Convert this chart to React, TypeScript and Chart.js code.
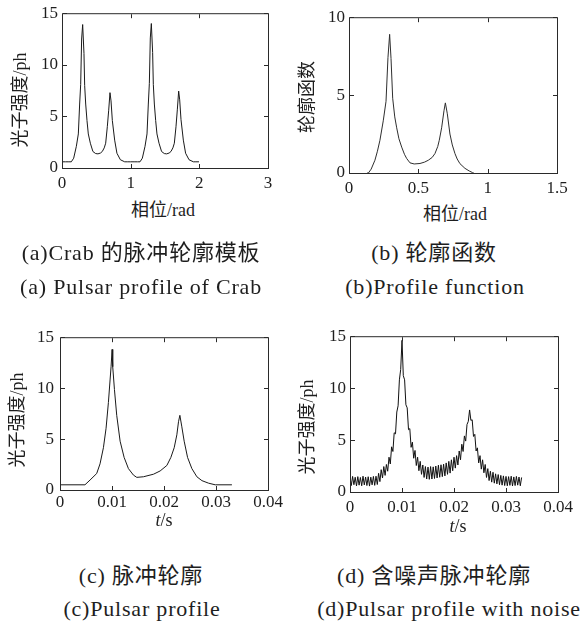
import React, { useEffect, useRef } from "react";
import { Chart, registerables } from "chart.js";

Chart.register(...registerables);

// ---------- (a) Crab pulse profile template ----------
const phaseA = [0, 0.05, 0.1, 0.136, 0.17, 0.209, 0.238, 0.257, 0.272, 0.286, 0.301, 0.32, 0.33, 0.345, 0.364, 0.383, 0.413, 0.45, 0.49, 0.524, 0.56, 0.587, 0.615, 0.636, 0.66, 0.68, 0.699, 0.714, 0.733, 0.767, 0.8, 0.85, 0.913, 0.95, 1.0, 1.05, 1.1, 1.136, 1.17, 1.209, 1.238, 1.257, 1.272, 1.286, 1.301, 1.32, 1.33, 1.345, 1.364, 1.383, 1.413, 1.45, 1.49, 1.524, 1.56, 1.587, 1.615, 1.636, 1.66, 1.68, 1.699, 1.714, 1.733, 1.767, 1.8, 1.85, 1.913, 1.95, 1.995];
const intensityA = [0.6, 0.6, 0.6, 0.6, 0.95, 2.1, 3.3, 6.2, 8.1, 12.5, 13.9, 11.1, 8.0, 6.2, 4.6, 3.3, 2.4, 1.6, 1.4, 1.37, 1.45, 1.6, 1.95, 2.4, 4.0, 5.6, 7.3, 6.5, 4.6, 2.7, 1.43, 0.8, 0.6, 0.6, 0.6, 0.6, 0.6, 0.6, 0.95, 2.1, 3.3, 6.2, 8.2, 12.6, 14.0, 11.2, 8.1, 6.2, 4.6, 3.3, 2.4, 1.6, 1.4, 1.37, 1.45, 1.6, 1.95, 2.4, 4.0, 5.7, 7.45, 6.6, 4.7, 2.7, 1.43, 0.8, 0.6, 0.6, 0.6];
const xTicksA = [0, 1, 2, 3];
const yTicksA = [0, 5, 10, 15];

// ---------- (b) Profile function ----------
const phaseB = [0.13, 0.14, 0.16, 0.187, 0.205, 0.223, 0.247, 0.267, 0.281, 0.293, 0.303, 0.315, 0.33, 0.344, 0.36, 0.38, 0.4, 0.416, 0.44, 0.47, 0.512, 0.545, 0.572, 0.6, 0.62, 0.64, 0.651, 0.668, 0.685, 0.695, 0.709, 0.728, 0.745, 0.764, 0.78, 0.8, 0.836, 0.867, 0.89, 0.9];
const profileB = [0, 0, 0.25, 0.82, 1.4, 2.1, 3.35, 4.6, 7.4, 8.9, 7.35, 4.8, 3.6, 2.9, 2.2, 1.66, 1.2, 0.93, 0.65, 0.58, 0.61, 0.7, 0.82, 1.0, 1.25, 1.7, 2.1, 2.9, 4.0, 4.5, 3.8, 2.5, 1.8, 1.25, 0.9, 0.6, 0.3, 0.13, 0.03, 0];
const xTicksB = [0, 0.5, 1, 1.5];
const yTicksB = [0, 5, 10];

// ---------- (c) Pulse profile ----------
const timeC = [0, 0.0048, 0.00578, 0.00706, 0.0077, 0.00835, 0.00886, 0.00931, 0.00963, 0.00982, 0.01002, 0.01014, 0.01047, 0.01091, 0.01156, 0.01233, 0.01316, 0.01413, 0.01477, 0.01605, 0.01798, 0.01926, 0.02055, 0.02132, 0.02196, 0.02247, 0.02279, 0.02305, 0.02343, 0.02388, 0.02453, 0.02536, 0.02632, 0.02729, 0.02857, 0.02985, 0.03306];
const intensityC = [0.51, 0.51, 0.98, 1.62, 2.57, 4.15, 6.06, 8.6, 10.8, 12.1, 13.8, 12.1, 9.86, 7.33, 4.79, 3.2, 2.1, 1.46, 1.24, 1.3, 1.55, 1.87, 2.41, 3.2, 4.15, 5.42, 6.7, 7.33, 6.2, 4.79, 3.2, 2.1, 1.3, 0.92, 0.67, 0.51, 0.51];
const xTicksT = [0, 0.01, 0.02, 0.03, 0.04];
const yTicksT = [0, 5, 10, 15];

// ---------- (d) Pulse profile with noise (sampled every 0.25 ms) ----------
const noisyStart = 0;
const noisyStep = 0.00025;
const intensityD = [
  1.45, 0.62, 1.5, 0.7, 1.42, 0.58, 1.48, 0.66, 1.4, 0.6,
  1.52, 0.68, 1.44, 0.62, 1.47, 0.57, 1.43, 0.69, 1.5, 0.64,
  1.52, 0.72, 1.8, 1.0, 2.15, 1.35, 2.45, 1.6, 2.65, 2.0,
  3.35, 2.7, 4.35, 3.9, 5.7, 5.6, 7.7, 8.3, 10.8, 11.8,
  14.6, 11.2, 10.8, 8.4, 8.1, 6.0, 6.1, 4.3, 4.8, 3.25,
  4.0, 2.55, 3.35, 2.05, 2.95, 1.7, 2.6, 1.4, 2.45, 1.25,
  2.4, 1.22, 2.45, 1.25, 2.42, 1.3, 2.5, 1.35, 2.58, 1.42,
  2.62, 1.48, 2.68, 1.55, 2.8, 1.7, 2.95, 1.82, 3.1, 2.05,
  3.35, 2.3, 3.5, 2.6, 3.95, 3.1, 4.6, 3.9, 5.4, 4.9,
  6.5, 6.8, 7.9, 6.9, 6.95, 5.35, 5.55, 3.95, 4.25, 2.8,
  3.5, 2.2, 3.1, 1.85, 2.65, 1.4, 2.25, 1.1, 2.0, 0.95,
  1.9, 0.85, 1.75, 0.78, 1.68, 0.7, 1.6, 0.66, 1.55, 0.62,
  1.5, 0.6, 1.48, 0.64, 1.52, 0.58, 1.45, 0.62, 1.5, 0.66,
  1.44, 0.6, 1.4,
];
const timeD = intensityD.map((_, i) => noisyStart + i * noisyStep);

const FONT = '"Liberation Serif", "Noto Sans CJK SC", serif';
const TEXT_COLOR = "#1e1e1e";

const Y_AXIS_W = 60;
const X_AXIS_H = 30;
const PAD_TOP = 12;
const PAD_RIGHT = 20;

const boxPlugin = {
  id: "matlabBox",
  afterDraw(chart: any) {
    const { ctx, chartArea } = chart;
    const { left, right, top, bottom } = chartArea;
    ctx.save();
    ctx.strokeStyle = "#2a2a2a";
    ctx.lineWidth = 1;
    ctx.strokeRect(left + 0.5, top + 0.5, right - left, bottom - top);
    ctx.beginPath();
    const xs = chart.scales.x;
    const ys = chart.scales.y;
    xs.ticks.forEach((t: any) => {
      const p = Math.round(xs.getPixelForValue(t.value)) + 0.5;
      ctx.moveTo(p, bottom);
      ctx.lineTo(p, bottom - 4);
      ctx.moveTo(p, top + 1);
      ctx.lineTo(p, top + 5);
    });
    ys.ticks.forEach((t: any) => {
      const p = Math.round(ys.getPixelForValue(t.value)) + 0.5;
      ctx.moveTo(left + 1, p);
      ctx.lineTo(left + 5, p);
      ctx.moveTo(right, p);
      ctx.lineTo(right - 4, p);
    });
    ctx.stroke();
    ctx.restore();
  },
};

const fmt = (v: any) => String(Number(Number(v).toFixed(4)));

type PanelProps = {
  xs: number[];
  ys: number[];
  xTicks: number[];
  yTicks: number[];
  box: { l: number; t: number; r: number; b: number };
  xPad: number;
  yPad: number;
  color: string;
};

function Panel({ xs, ys, xTicks, yTicks, box, xPad, yPad, color }: PanelProps) {
  const ref = useRef<HTMLCanvasElement | null>(null);
  const width = box.r - box.l + Y_AXIS_W + PAD_RIGHT;
  const height = box.b - box.t + PAD_TOP + X_AXIS_H;
  useEffect(() => {
    if (!ref.current) return;
    const tickFont = { family: FONT, size: 17 };
    const chart = new Chart(ref.current, {
      type: "line",
      data: {
        datasets: [
          {
            data: xs.map((x, i) => ({ x, y: ys[i] })),
            borderColor: color,
            borderWidth: 1,
            pointRadius: 0,
            tension: 0,
            fill: false,
          },
        ],
      },
      options: {
        animation: false,
        responsive: false,
        devicePixelRatio: 1,
        events: [],
        layout: { padding: { top: PAD_TOP, right: PAD_RIGHT, left: 0, bottom: 0 } },
        plugins: { legend: { display: false }, tooltip: { enabled: false } },
        scales: {
          x: {
            type: "linear",
            min: xTicks[0],
            max: xTicks[xTicks.length - 1],
            grid: { display: false, drawTicks: false },
            border: { display: false },
            ticks: {
              font: tickFont,
              color: TEXT_COLOR,
              padding: xPad,
              maxRotation: 0,
              autoSkip: false,
              callback: fmt,
            },
            afterBuildTicks: (s: any) => {
              s.ticks = xTicks.map((value) => ({ value }));
            },
            afterFit: (s: any) => {
              s.height = X_AXIS_H;
            },
          },
          y: {
            type: "linear",
            min: yTicks[0],
            max: yTicks[yTicks.length - 1],
            grid: { display: false, drawTicks: false },
            border: { display: false },
            ticks: {
              font: tickFont,
              color: TEXT_COLOR,
              padding: yPad,
              autoSkip: false,
              callback: fmt,
            },
            afterBuildTicks: (s: any) => {
              s.ticks = yTicks.map((value) => ({ value }));
            },
            afterFit: (s: any) => {
              s.width = Y_AXIS_W;
            },
          },
        },
      } as any,
      plugins: [boxPlugin],
    });
    return () => chart.destroy();
  }, []);
  return (
    <canvas
      ref={ref}
      width={width}
      height={height}
      style={{
        position: "absolute",
        left: box.l - Y_AXIS_W,
        top: box.t - PAD_TOP,
        width,
        height,
      }}
    />
  );
}

function Text({
  cx,
  baseline,
  size,
  spacing = 0,
  children,
}: {
  cx: number;
  baseline: number;
  size: number;
  spacing?: number;
  children: any;
}) {
  return (
    <div
      style={{
        position: "absolute",
        left: cx,
        top: baseline - 0.9375 * size,
        transform: "translateX(-50%)",
        fontFamily: FONT,
        fontSize: size,
        lineHeight: `${1.2 * size}px`,
        letterSpacing: spacing,
        whiteSpace: "nowrap",
        color: TEXT_COLOR,
      }}
    >
      {children}
    </div>
  );
}

function VText({ cx, cy, size, children }: { cx: number; cy: number; size: number; children: any }) {
  return (
    <div
      style={{
        position: "absolute",
        left: cx,
        top: cy,
        transform: "translate(-50%, -50%) rotate(-90deg)",
        fontFamily: FONT,
        fontSize: size,
        lineHeight: `${1.2 * size}px`,
        whiteSpace: "nowrap",
        color: TEXT_COLOR,
      }}
    >
      {children}
    </div>
  );
}

export default function App() {
  const tS = (
    <span>
      <i>t</i>/s
    </span>
  );
  return (
    <div
      style={{
        position: "absolute",
        left: 0,
        top: 0,
        width: 584,
        height: 628,
        background: "#ffffff",
        overflow: "hidden",
      }}
    >
      <Panel xs={phaseA} ys={intensityA} xTicks={xTicksA} yTicks={yTicksA} box={{ l: 62, t: 11, r: 268, b: 168 }} xPad={5} yPad={4} color="#1a1a1a" />
      <Panel xs={phaseB} ys={profileB} xTicks={xTicksB} yTicks={yTicksB} box={{ l: 349, t: 15, r: 557, b: 173 }} xPad={5} yPad={4} color="#2e2e2e" />
      <Panel xs={timeC} ys={intensityC} xTicks={xTicksT} yTicks={yTicksT} box={{ l: 60, t: 333, r: 268, b: 490 }} xPad={2} yPad={6} color="#1a1a1a" />
      <Panel xs={timeD} ys={intensityD} xTicks={xTicksT} yTicks={yTicksT} box={{ l: 350, t: 334, r: 558, b: 492 }} xPad={5} yPad={4} color="#111111" />

      <VText cx={20.5} cy={100} size={18}>光子强度/ph</VText>
      <VText cx={307.5} cy={97} size={18}>轮廓函数</VText>
      <VText cx={17.5} cy={420} size={18}>光子强度/ph</VText>
      <VText cx={307.5} cy={427} size={18}>光子强度/ph</VText>

      <Text cx={163} baseline={217} size={18}>相位/rad</Text>
      <Text cx={455} baseline={221} size={18}>相位/rad</Text>
      <Text cx={164} baseline={527} size={18}>{tS}</Text>
      <Text cx={458} baseline={533} size={18}>{tS}</Text>

      <Text cx={141} baseline={261} size={22} spacing={0.8}>(a)Crab 的脉冲轮廓模板</Text>
      <Text cx={141} baseline={295} size={22} spacing={0.8}>(a) Pulsar profile of Crab</Text>
      <Text cx={434} baseline={261} size={22} spacing={0.8}>(b) 轮廓函数</Text>
      <Text cx={435} baseline={295} size={22} spacing={0.8}>(b)Profile function</Text>
      <Text cx={141} baseline={584} size={22} spacing={0.8}>(c) 脉冲轮廓</Text>
      <Text cx={142} baseline={617} size={22} spacing={0.8}>(c)Pulsar profile</Text>
      <Text cx={434} baseline={584} size={22} spacing={0.8}>(d) 含噪声脉冲轮廓</Text>
      <Text cx={449} baseline={617} size={22} spacing={0.8}>(d)Pulsar profile with noise</Text>
    </div>
  );
}
